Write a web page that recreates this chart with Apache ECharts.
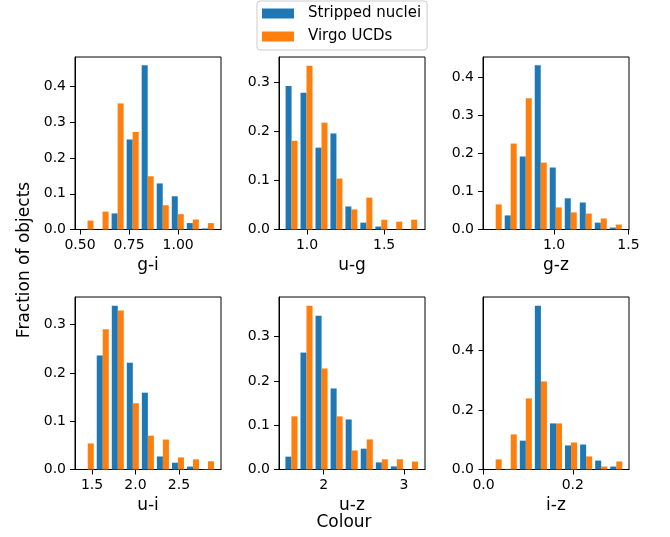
<!DOCTYPE html>
<html>
<head>
<meta charset="utf-8">
<script src="https://cdn.jsdelivr.net/npm/echarts@6/dist/echarts.min.js"></script>
<style>html,body{margin:0;padding:0;background:#fff}#c{width:670px;height:537px}</style>
</head>
<body>
<div id="c"></div>
<script>
// ---- data ----
const seriesNames = ['Stripped nuclei', 'Virgo UCDs'];
const panelLabels = ['g-i', 'u-g', 'g-z', 'u-i', 'u-z', 'i-z'];

// histogram bin left edge of first bin and bin width, per panel
const binStart = [0.500, 0.851, 0.5575, 1.364, 1.506, 0.0102];
const binWidth = [0.0766, 0.0970, 0.1009, 0.1730, 0.1875, 0.0338];

const stripped_gi = [0, 0, 0.045, 0.252, 0.460, 0.129, 0.093, 0.018, 0.003];
const virgo_gi    = [0.025, 0.050, 0.353, 0.273, 0.149, 0.068, 0.043, 0.028, 0.018];
const stripped_ug = [0.293, 0.279, 0.167, 0.196, 0.047, 0.014, 0.006, 0, 0];
const virgo_ug    = [0.181, 0.334, 0.218, 0.104, 0.041, 0.065, 0.020, 0.016, 0.020];
const stripped_gz = [0, 0.037, 0.192, 0.432, 0.163, 0.082, 0.071, 0.018, 0.005];
const virgo_gz    = [0.066, 0.226, 0.345, 0.176, 0.058, 0.045, 0.042, 0.029, 0.013];
const stripped_ui = [0, 0.236, 0.339, 0.221, 0.159, 0.027, 0.014, 0.006, 0.001];
const virgo_ui    = [0.054, 0.290, 0.329, 0.137, 0.070, 0.062, 0.025, 0.021, 0.017];
const stripped_uz = [0.029, 0.264, 0.347, 0.183, 0.113, 0.047, 0.016, 0.007, 0];
const virgo_uz    = [0.120, 0.370, 0.228, 0.120, 0.043, 0.068, 0.023, 0.023, 0.018];
const stripped_iz = [0, 0.002, 0.097, 0.551, 0.155, 0.081, 0.084, 0.030, 0.010];
const virgo_iz    = [0.034, 0.118, 0.239, 0.296, 0.155, 0.091, 0.044, 0.010, 0.027];

const strippedData = [stripped_gi, stripped_ug, stripped_gz, stripped_ui, stripped_uz, stripped_iz];
const virgoData    = [virgo_gi, virgo_ug, virgo_gz, virgo_ui, virgo_uz, virgo_iz];

// axis ticks
const xTicks = [[0.50, 0.75, 1.00], [1.0, 1.5], [1.0, 1.5], [1.5, 2.0, 2.5], [2, 3], [0.0, 0.2]];
const xTickDecimals = [2, 1, 1, 1, 0, 1];
const yTicks = [[0, 0.1, 0.2, 0.3, 0.4], [0, 0.1, 0.2, 0.3], [0, 0.1, 0.2, 0.3, 0.4],
                [0, 0.1, 0.2, 0.3], [0, 0.1, 0.2, 0.3], [0, 0.2, 0.4]];
// axis ranges
const xMin = [0.4745, 0.818, 0.5225, 1.304, 1.445, -0.0013];
const xMax = [1.218, 1.765, 1.504, 2.984, 3.262, 0.326];
const yMax = [0.483, 0.352, 0.4536, 0.357, 0.3895, 0.580];

// ---- layout ----
const colLeft = [75, 279, 483];
const rowTop = [57, 297];
const W = 146, H = 172.5;
const COLORS = ['#1f77b4', '#ff7f0e'];
const FONT = 'DejaVu Sans';

const grids = [], xAxes = [], yAxes = [], series = [];
for (let p = 0; p < 6; p++) {
  const r = Math.floor(p / 3), c = p % 3;
  grids.push({left: colLeft[c], top: rowTop[r], width: W, height: H, show: true,
              borderColor: '#000', borderWidth: 1, containLabel: false});
  const dec = xTickDecimals[p];
  xAxes.push({
    type: 'value', gridIndex: p, min: xMin[p], max: xMax[p],
    name: panelLabels[p], nameLocation: 'middle', nameGap: 28,
    nameTextStyle: {fontFamily: FONT, fontSize: 17, color: '#000'},
    axisLine: {show: true, onZero: false, lineStyle: {color: '#000', width: 1}},
    axisTick: {show: true, length: 5, lineStyle: {color: '#000', width: 1}, customValues: xTicks[p]},
    axisLabel: {show: true, margin: 9, fontFamily: FONT, fontSize: 14, color: '#000',
                customValues: xTicks[p], formatter: v => Number(v).toFixed(dec)},
    splitLine: {show: false}
  });
  yAxes.push({
    type: 'value', gridIndex: p, min: 0, max: yMax[p],
    axisLine: {show: true, lineStyle: {color: '#000', width: 1}},
    axisTick: {show: true, length: 5, lineStyle: {color: '#000', width: 1}, customValues: yTicks[p]},
    axisLabel: {show: true, margin: 9, fontFamily: FONT, fontSize: 14, color: '#000',
                customValues: yTicks[p], formatter: v => Number(v).toFixed(1)},
    splitLine: {show: false}
  });
  [strippedData[p], virgoData[p]].forEach((vals, k) => {
    const data = vals.map((v, i) => [binStart[p] + i * binWidth[p], v, binWidth[p]]);
    series.push({
      type: 'custom', name: seriesNames[k], xAxisIndex: p, yAxisIndex: p,
      itemStyle: {color: COLORS[k]},
      encode: {x: 0, y: 1},
      data: data,
      renderItem: (params, api) => {
        const left = api.value(0), h = api.value(1), w = api.value(2);
        const x0 = left + (k === 0 ? 0.1 : 0.5) * w;
        const x1 = x0 + 0.4 * w;
        const a = api.coord([x0, 0]);
        const b = api.coord([x1, h]);
        return {type: 'rect', shape: {x: a[0], y: b[1], width: b[0] - a[0], height: a[1] - b[1]},
                style: {fill: COLORS[k]}};
      }
    });
  });
}

const chart = echarts.init(document.getElementById('c'), null, {renderer: 'canvas'});
chart.setOption({
  animation: false,
  backgroundColor: '#fff',
  grid: grids, xAxis: xAxes, yAxis: yAxes, series: series,
  legend: {
    data: seriesNames, left: 257, top: 1, orient: 'vertical',
    icon: 'rect', itemWidth: 32, itemHeight: 10, itemGap: 8,
    padding: [5, 6, 6, 5],
    borderColor: '#ccc', borderWidth: 1, borderRadius: 3, backgroundColor: 'rgba(255,255,255,0.8)',
    textStyle: {fontFamily: FONT, fontSize: 15, color: '#000', padding: [0, 0, 0, 9]}
  },
  graphic: [
    {type: 'text', x: 25, y: 260, rotation: Math.PI / 2,
     style: {text: 'Fraction of objects', fontFamily: FONT, fontSize: 17, fill: '#000',
             textAlign: 'center', textVerticalAlign: 'middle'}},
    {type: 'text', x: 344, y: 523,
     style: {text: 'Colour', fontFamily: FONT, fontSize: 17, fill: '#000',
             textAlign: 'center', textVerticalAlign: 'middle'}}
  ]
});
</script>
</body>
</html>
